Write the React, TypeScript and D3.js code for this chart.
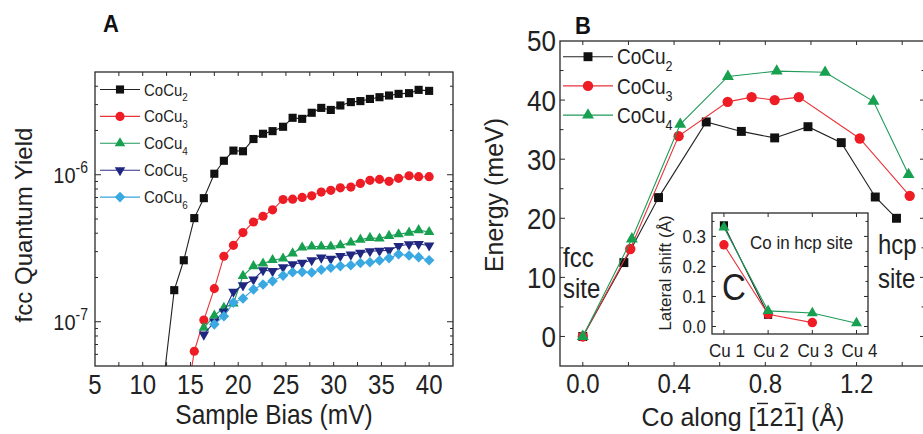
import React, { useEffect, useRef } from 'react';
import * as d3 from 'd3';

// ---- panel A: fcc quantum yield vs sample bias ----
const biasMv = [12.2, 13.3, 14.3, 15.4, 16.4, 17.5, 18.5, 19.5, 20.5, 21.6, 22.6, 23.6, 24.7, 25.7,
  26.7, 27.7, 28.7, 29.7, 30.7, 31.8, 32.8, 33.8, 34.8, 35.8, 36.8, 37.9, 38.9, 40.0];
// each series runs to the end of biasMv
const yieldCu2 = [4e-8, 1.64e-7, 2.62e-7, 5.07e-7, 6.93e-7, 1.016e-6, 1.245e-6, 1.46e-6, 1.445e-6, 1.75e-6,
  1.9e-6, 1.98e-6, 2.12e-6, 2.44e-6, 2.4e-6, 2.64e-6, 2.85e-6, 2.76e-6, 2.96e-6, 3.12e-6, 3.17e-6, 3.28e-6,
  3.37e-6, 3.46e-6, 3.55e-6, 3.59e-6, 3.78e-6, 3.72e-6];
const yieldCu3 = [2.2e-8, 6.3e-8, 1.026e-7, 1.68e-7, 2.79e-7, 3.31e-7, 4.04e-7, 4.77e-7, 5.22e-7, 5.77e-7,
  6.79e-7, 6.82e-7, 7.01e-7, 7.19e-7, 7.62e-7, 7.83e-7, 8.15e-7, 8.24e-7, 8.73e-7, 9.16e-7, 9.3e-7, 9.02e-7,
  9.45e-7, 9.84e-7, 9.7e-7, 9.7e-7];
const yieldCu4 = [9.1e-8, 1.1e-7, 1.245e-7, 1.33e-7, 2.05e-7, 2.39e-7, 2.49e-7, 2.63e-7, 2.69e-7, 2.92e-7,
  3.2e-7, 3.25e-7, 3.25e-7, 3.25e-7, 3.31e-7, 3.46e-7, 3.62e-7, 3.72e-7, 3.68e-7, 3.84e-7, 3.94e-7, 4.04e-7,
  4.2e-7, 4.08e-7];
const yieldCu5 = [8.18e-8, 1.0e-7, 1.17e-7, 1.6e-7, 1.77e-7, 1.94e-7, 2.24e-7, 2.21e-7, 2.35e-7, 2.46e-7,
  2.52e-7, 2.62e-7, 2.73e-7, 2.68e-7, 2.8e-7, 2.86e-7, 2.94e-7, 3.02e-7, 3.04e-7, 3.06e-7, 3.28e-7, 3.37e-7,
  3.38e-7, 3.3e-7];
const yieldCu6 = [9.6e-8, 1.09e-7, 1.35e-7, 1.44e-7, 1.66e-7, 1.79e-7, 1.89e-7, 2.06e-7, 2.17e-7, 2.18e-7,
  2.16e-7, 2.26e-7, 2.33e-7, 2.39e-7, 2.42e-7, 2.51e-7, 2.54e-7, 2.61e-7, 2.71e-7, 2.88e-7, 2.82e-7, 2.75e-7,
  2.62e-7];
const biasTicks = [5, 10, 15, 20, 25, 30, 35, 40];
const yieldTicks = [1e-7, 1e-6];

// ---- panel B: energy along the path ----
const pathCu2 = [0, 0.18, 0.332, 0.541, 0.695, 0.841, 0.987, 1.133, 1.282, 1.375];
const energyCu2 = [0, 12.5, 23.5, 36.3, 34.7, 33.6, 35.5, 32.8, 23.6, 20.0];
const pathCu3 = [0, 0.208, 0.42, 0.635, 0.74, 0.841, 0.947, 1.214, 1.433];
const energyCu3 = [0, 14.8, 33.9, 39.7, 40.5, 40.0, 40.5, 33.5, 23.8];
const pathCu4 = [0, 0.215, 0.427, 0.636, 0.85, 1.062, 1.274, 1.428];
const energyCu4 = [0, 16.5, 35.9, 44.0, 44.9, 44.7, 39.8, 27.4];
const pathTicks = [0, 0.4, 0.8, 1.2];
const energyTicks = [0, 10, 20, 30, 40, 50];

// ---- inset C: lateral shift ----
const cuSites = ['Cu 1', 'Cu 2', 'Cu 3', 'Cu 4'];
const shiftCu2 = [0.337, 0.039];
const shiftCu3 = [0.272, 0.041, 0.013];
const shiftCu4 = [0.33, 0.052, 0.045, 0.011];
const shiftTicks = [0, 0.1, 0.2, 0.3];

const FONT = 'Liberation Sans, Arial, Helvetica, sans-serif';
const AXIS = '#2a2a2a';
const INK = '#222';
const STRETCH = 1.12; // the figure is a bit taller than wide, text too

const COLORS = {
  k: { line: '#222', fill: '#111' },
  r: { line: '#e8333a', fill: '#ee1c25' },
  g: { line: '#1f9a5a', fill: '#16a050' },
  n: { line: '#2a2f85', fill: '#1f2780' },
  c: { line: '#3aa3dc', fill: '#3aa9e2' },
};

// horizontal text, stretched vertically around its baseline
const SText = ({ x, y, k = STRETCH, children, ...rest }) => (
  <text transform={`translate(${x},${y}) scale(1,${k})`} fill={INK} {...rest}>{children}</text>
);

const symbolPath = (kind, size) => {
  if (kind === 'square' || kind === 'diamond') return d3.symbol(d3.symbolSquare, size)();
  if (kind === 'circle') return d3.symbol(d3.symbolCircle, size)();
  return d3.symbol(d3.symbolTriangle, size)();
};
const symbolRot = (kind) => (kind === 'down' ? 180 : kind === 'diamond' ? 45 : 0);

const Marker = ({ kind, x, y, size, fill }) => (
  <path d={symbolPath(kind, size)} fill={fill}
    transform={`translate(${x},${y}) rotate(${symbolRot(kind)})`} />
);

const Series = ({ pts, kind, size, color, clip }) => {
  const line = d3.line().x(d => d[0]).y(d => d[1]);
  return (
    <g>
      <path d={line(pts)} fill="none" stroke={color.line} strokeWidth={1.1} clipPath={clip} />
      <g clipPath={clip}>
        {pts.map((p, i) => <Marker key={i} kind={kind} x={p[0]} y={p[1]} size={size} fill={color.fill} />)}
      </g>
    </g>
  );
};

const LegendRow = ({ x0, x1, y, kind, size, color, label, sub, fs }) => (
  <g>
    <line x1={x0} x2={x1} y1={y} y2={y} stroke={color.line} strokeWidth={1.1} />
    <Marker kind={kind} x={(x0 + x1) / 2} y={y} size={size} fill={color.fill} />
    <SText x={x1 + 4} y={y + fs * 0.36 * STRETCH} fontSize={fs}>
      {label}<tspan fontSize={fs * 0.66} dy={fs * 0.33}>{sub}</tspan>
    </SText>
  </g>
);

const PanelA = () => {
  const L = 95, R = 453, T = 72, B = 366;
  const x = d3.scaleLinear().domain([5, 42.5]).range([L, R]);
  const y = d3.scaleLog().domain([5e-8, 5e-6]).range([B, T]);

  const pts = (vals) => {
    const off = biasMv.length - vals.length;
    return vals.map((v, i) => [x(biasMv[off + i]), y(v)]);
  };
  const xMinor = d3.range(7.5, 42.5, 2.5);
  const yMinor = [];
  [1e-8, 1e-7, 1e-6].forEach(dec => d3.range(2, 10).forEach(k => {
    const v = k * dec;
    if (v > 5.01e-8 && v < 4.99e-6) yMinor.push(v);
  }));

  const series = [
    { vals: yieldCu2, kind: 'square', size: 66, color: COLORS.k, sub: '2' },
    { vals: yieldCu3, kind: 'circle', size: 66, color: COLORS.r, sub: '3' },
    { vals: yieldCu4, kind: 'triangle', size: 48, color: COLORS.g, sub: '4' },
    { vals: yieldCu5, kind: 'down', size: 48, color: COLORS.n, sub: '5' },
    { vals: yieldCu6, kind: 'diamond', size: 56, color: COLORS.c, sub: '6' },
  ];

  return (
    <g>
      <defs>
        <clipPath id="clipA"><rect x={L} y={T} width={R - L} height={B - T} /></clipPath>
      </defs>
      <SText x={103} y={32} fontSize={22} fontWeight="bold" fill="#111">A</SText>
      {series.map((s, i) => (
        <Series key={i} pts={pts(s.vals)} kind={s.kind} size={s.size} color={s.color} clip="url(#clipA)" />
      ))}
      {series.map((s, i) => (
        <LegendRow key={i} x0={100} x1={140} y={89.5 + i * 26.9} kind={s.kind} size={s.size}
          color={s.color} label="CoCu" sub={s.sub} fs={15} />
      ))}
      <rect x={L} y={T} width={R - L} height={B - T} fill="none" stroke={AXIS} strokeWidth={1.3} />
      {xMinor.map(v => (
        <g key={v} stroke={AXIS} strokeWidth={1}>
          <line x1={x(v)} x2={x(v)} y1={B} y2={B - 4} />
          <line x1={x(v)} x2={x(v)} y1={T} y2={T + 4} />
        </g>
      ))}
      {yieldTicks.map(v => (
        <g key={v} stroke={AXIS} strokeWidth={1}>
          <line x1={L} x2={L + 6} y1={y(v)} y2={y(v)} />
          <line x1={R} x2={R - 6} y1={y(v)} y2={y(v)} />
        </g>
      ))}
      {yMinor.map(v => (
        <g key={v} stroke={AXIS} strokeWidth={1}>
          <line x1={L} x2={L + 3} y1={y(v)} y2={y(v)} />
          <line x1={R} x2={R - 3} y1={y(v)} y2={y(v)} />
        </g>
      ))}
      {biasTicks.map(v => (
        <SText key={v} x={x(v)} y={394} fontSize={24} textAnchor="middle">{v}</SText>
      ))}
      {yieldTicks.map(v => (
        <SText key={v} x={88} y={y(v) + 8} fontSize={20} textAnchor="end">
          10<tspan fontSize={14} dy={-9}>{`-${Math.round(-Math.log10(v))}`}</tspan>
        </SText>
      ))}
      <SText x={274} y={424} fontSize={24.5} textAnchor="middle">Sample Bias (mV)</SText>
      <text transform={`translate(32,225) rotate(-90)`} fontSize={24} textAnchor="middle" fill={INK}>
        fcc Quantum Yield
      </text>
    </g>
  );
};

const Inset = () => {
  const L = 712, R = 868, T = 213, B = 334;
  const x = d3.scaleLinear().domain([0.73, 4.26]).range([L, R]);
  const y = d3.scaleLinear().domain([-0.025, 0.378]).range([B, T]);
  const pts = (vals) => vals.map((v, i) => [x(i + 1), y(v)]);
  const yMinor = d3.range(0, 0.38, 0.05);
  return (
    <g>
      <rect x={L} y={T} width={R - L} height={B - T} fill="#fff" />
      <Series pts={pts(shiftCu2)} kind="square" size={66} color={COLORS.k} />
      <Series pts={pts(shiftCu3)} kind="circle" size={70} color={COLORS.r} />
      <Series pts={pts(shiftCu4)} kind="triangle" size={52} color={COLORS.g} />
      <rect x={L} y={T} width={R - L} height={B - T} fill="none" stroke={AXIS} strokeWidth={1.3} />
      {cuSites.map((c, i) => (
        <g key={c} stroke={AXIS} strokeWidth={1}>
          <line x1={x(i + 1)} x2={x(i + 1)} y1={B} y2={B - 4} />
          <line x1={x(i + 1)} x2={x(i + 1)} y1={T} y2={T + 4} />
        </g>
      ))}
      {yMinor.map((v, i) => (
        <g key={i} stroke={AXIS} strokeWidth={1}>
          <line x1={L} x2={L + (i % 2 === 0 ? 4 : 2.5)} y1={y(v)} y2={y(v)} />
          <line x1={R} x2={R - (i % 2 === 0 ? 4 : 2.5)} y1={y(v)} y2={y(v)} />
        </g>
      ))}
      {shiftTicks.map(v => (
        <SText key={v} x={706} y={y(v)} dy="0.36em" fontSize={17} textAnchor="end">{d3.format('.1f')(v)}</SText>
      ))}
      {cuSites.map((c, i) => (
        <SText key={c} x={x(i + 1) + 3} y={357} fontSize={17} textAnchor="middle">{c}</SText>
      ))}
      <text transform={`translate(671,273) rotate(-90)`} fontSize={17} textAnchor="middle" fill={INK}>
        Lateral shift (Å)
      </text>
      <SText x={750} y={249} fontSize={17}>Co in hcp site</SText>
      <SText x={722} y={300} fontSize={33}>C</SText>
    </g>
  );
};

const PanelB = () => {
  const L = 560, R = 925, T = 41, B = 366;
  const x = d3.scaleLinear().domain([-0.1, 1.5]).range([L, R]);
  const y = d3.scaleLinear().domain([-5, 50]).range([B, T]);
  const titleRef = useRef(null);
  const barsRef = useRef(null);

  const pts = (xs, ys) => xs.map((v, i) => [x(v), y(ys[i])]);
  const xMinor = d3.range(0, 1.5, 0.2);
  const yMinor = d3.range(0, 50, 5);

  useEffect(() => {
    // overbars above both "1" in [121]
    const el = titleRef.current;
    const g = d3.select(barsRef.current);
    g.selectAll('*').remove();
    const txt = el.textContent;
    [txt.indexOf('1'), txt.lastIndexOf('1')].forEach(i => {
      const r = el.getExtentOfChar(i);
      g.append('line')
        .attr('x1', r.x + 1.5).attr('x2', r.x + r.width - 1.5)
        .attr('y1', r.y + 1).attr('y2', r.y + 1)
        .attr('stroke', INK).attr('stroke-width', 1.4);
    });
  }, []);

  const series = [
    { xs: pathCu2, ys: energyCu2, kind: 'square', size: 80, color: COLORS.k, sub: '2' },
    { xs: pathCu3, ys: energyCu3, kind: 'circle', size: 84, color: COLORS.r, sub: '3' },
    { xs: pathCu4, ys: energyCu4, kind: 'triangle', size: 62, color: COLORS.g, sub: '4' },
  ];

  return (
    <g>
      <defs>
        <clipPath id="clipB"><rect x={L} y={T} width={R - L} height={B - T} /></clipPath>
      </defs>
      <SText x={575} y={33.5} fontSize={22} fontWeight="bold" fill="#111">B</SText>
      {series.map((s, i) => (
        <Series key={i} pts={pts(s.xs, s.ys)} kind={s.kind} size={s.size} color={s.color} clip="url(#clipB)" />
      ))}
      {series.map((s, i) => (
        <LegendRow key={i} x0={563} x1={613} y={56.7 + i * 29.2} kind={s.kind} size={s.size}
          color={s.color} label="CoCu" sub={s.sub} fs={19} />
      ))}
      <Inset />
      <rect x={L} y={T} width={R - L} height={B - T} fill="none" stroke={AXIS} strokeWidth={1.3} />
      {xMinor.map(v => (
        <g key={v} stroke={AXIS} strokeWidth={1}>
          <line x1={x(v)} x2={x(v)} y1={B} y2={B - 4} />
          <line x1={x(v)} x2={x(v)} y1={T} y2={T + 4} />
        </g>
      ))}
      {yMinor.map(v => (
        <g key={v} stroke={AXIS} strokeWidth={1}>
          <line x1={L} x2={L + (v % 10 === 0 ? 5 : 3.5)} y1={y(v)} y2={y(v)} />
          <line x1={R} x2={R - (v % 10 === 0 ? 5 : 3.5)} y1={y(v)} y2={y(v)} />
        </g>
      ))}
      {pathTicks.map(v => (
        <SText key={v} x={x(v)} y={393} fontSize={24} textAnchor="middle">{d3.format('.1f')(v)}</SText>
      ))}
      {energyTicks.map(v => (
        <SText key={v} x={556} y={y(v)} dy="0.36em" fontSize={26} textAnchor="end">{v}</SText>
      ))}
      <SText x={563} y={267} fontSize={24}>fcc</SText>
      <SText x={563} y={298} fontSize={24}>site</SText>
      <SText x={878} y={254} fontSize={24}>hcp</SText>
      <SText x={878} y={288} fontSize={24}>site</SText>
      <g transform={`translate(743,426) scale(1,1.05)`}>
        <text ref={titleRef} x={0} y={0} fontSize={25} textAnchor="middle" fill={INK}>Co along [121] (Å)</text>
        <g ref={barsRef} />
      </g>
      <text transform={`translate(503,195) rotate(-90)`} fontSize={25} textAnchor="middle" fill={INK}>
        Energy (meV)
      </text>
    </g>
  );
};

const App = () => (
  <svg width={923} height={434} style={{ position: 'absolute', left: 0, top: 0, background: '#fff' }}
    fontFamily={FONT}>
    <rect width={923} height={434} fill="#fff" />
    <PanelA />
    <PanelB />
  </svg>
);

export default App;
